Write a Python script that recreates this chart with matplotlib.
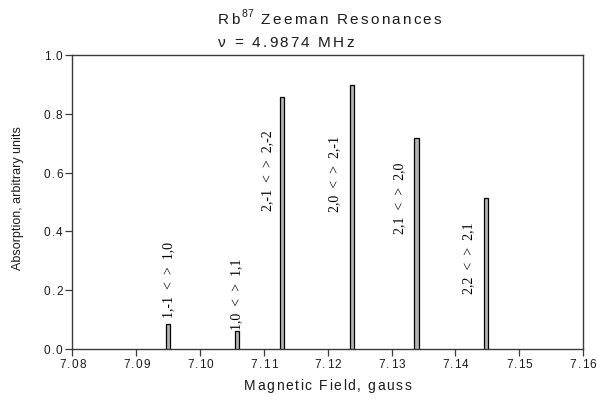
"""Rb87 Zeeman resonance lines at fixed RF frequency."""

import matplotlib
matplotlib.use('Agg')
import matplotlib.pyplot as plt
from matplotlib.font_manager import FontProperties, findfont, get_font
from matplotlib.transforms import offset_copy

# line positions (gauss) and peak absorption
FIELD = [7.0950, 7.1058, 7.1128, 7.1238, 7.1339, 7.1448]
ABSORPTION = [0.085, 0.062, 0.858, 0.899, 0.717, 0.513]
TRANSITIONS = [
    '1,-1  <  >  1,0',
    '1,0  <  >  1,1',
    '2,-1  <  >  2,-2',
    '2,0  <  >  2,-1',
    '2,1  <  >  2,0',
    '2,2  <  >  2,1',
]
X_TICKS = [7.08, 7.09, 7.10, 7.11, 7.12, 7.13, 7.14, 7.15, 7.16]
Y_TICKS = [0.0, 0.2, 0.4, 0.6, 0.8, 1.0]

# label placement: shift left of the line (gauss) and baseline height
LABEL_DX = [0.0, 0.0, -0.0022, -0.0027, -0.0027, -0.0027]
LABEL_Y = [0.109, 0.068, 0.473, 0.469, 0.395, 0.19]

BAR_WIDTH = 0.0007
SPINE_COLOR = '#3a3a3a'
TEXT_COLOR = '#1a1a1a'
SANS = 'Liberation Sans'
DPI = 100


def advances(s, size):
    """Advance widths (pixels) of each character of s."""
    font = get_font(findfont(FontProperties(family=SANS, size=size)))
    font.set_size(size, DPI)
    return [font.load_char(ord(c)).linearHoriAdvance / 65536 for c in s]


def tracked_text(fig, trans, x, y, s, size, track, ha='left', dx=0, dy=0):
    """Draw s with extra letter spacing; returns the right end in pixels."""
    adv = advances(s, size)
    total = sum(adv) + track * (len(s) - 1)
    if ha == 'center':
        pos = dx - total / 2
    elif ha == 'right':
        pos = dx - total
    else:
        pos = dx
    for c, a in zip(s, adv):
        tr = offset_copy(trans, fig=fig, x=pos, y=dy, units='dots')
        fig.text(x, y, c, transform=tr, ha='left', va='baseline',
                 fontsize=size, family=SANS, color=TEXT_COLOR)
        pos += a + track
    return pos - track


def main():
    plt.rcParams['font.family'] = [SANS, 'DejaVu Sans']

    fig = plt.figure(figsize=(5.97, 4.02), dpi=DPI)
    ax = fig.add_axes([0.1214, 0.1294, 0.8553, 0.7313])

    ax.bar(FIELD, ABSORPTION, width=BAR_WIDTH, color='#b4b4b4',
           edgecolor='black', linewidth=0.9, zorder=3)

    for x, dx, y, txt in zip(FIELD, LABEL_DX, LABEL_Y, TRANSITIONS):
        ax.text(x + dx, y, txt, rotation=90, ha='center', va='bottom',
                fontsize=10, family=['Liberation Serif', 'DejaVu Serif'])

    ax.set_xlim(7.08, 7.16)
    ax.set_ylim(0.0, 1.0)
    ax.set_xticks(X_TICKS)
    ax.set_yticks(Y_TICKS)
    ax.set_xticklabels([])
    ax.set_yticklabels([])
    ax.tick_params(direction='out', length=5, width=0.9, color=SPINE_COLOR)

    for side in ['left', 'right', 'top', 'bottom']:
        ax.spines[side].set_color(SPINE_COLOR)
        ax.spines[side].set_linewidth(1.0)

    # letter-spaced tick labels
    for v in X_TICKS:
        tracked_text(fig, ax.get_xaxis_transform(), v, 0, f'{v:.2f}',
                     8.5, 1.2, ha='center', dy=-18)
    for v in Y_TICKS:
        tracked_text(fig, ax.get_yaxis_transform(), 0, v, f'{v:.1f}',
                     8.5, 1.2, ha='right', dx=-10, dy=-4)

    tracked_text(fig, ax.transAxes, 0.5, 0, 'Magnetic Field, gauss',
                 10, 1.6, ha='center', dy=-40)
    fig.text(18 / 597, 1 - 198 / 402, 'Absorption, arbitrary units',
             rotation=90, ha='center', va='center', fontsize=9,
             color=TEXT_COLOR)

    # two-line heading with superscript isotope number
    fx = 218 / 597
    end = tracked_text(fig, fig.transFigure, fx, 1 - 24 / 402, 'Rb', 11, 2.2)
    end = tracked_text(fig, fig.transFigure, fx, 1 - 24 / 402, '87', 7.5, 0.8,
                       dx=end + 1.5, dy=7)
    tracked_text(fig, fig.transFigure, fx, 1 - 24 / 402,
                 ' Zeeman Resonances', 11, 2.2, dx=end + 1)
    tracked_text(fig, fig.transFigure, fx, 1 - 47 / 402,
                 '\u03bd = 4.9874 MHz', 11, 2.2)

    fig.savefig('out.png', dpi=DPI)


if __name__ == '__main__':
    main()
